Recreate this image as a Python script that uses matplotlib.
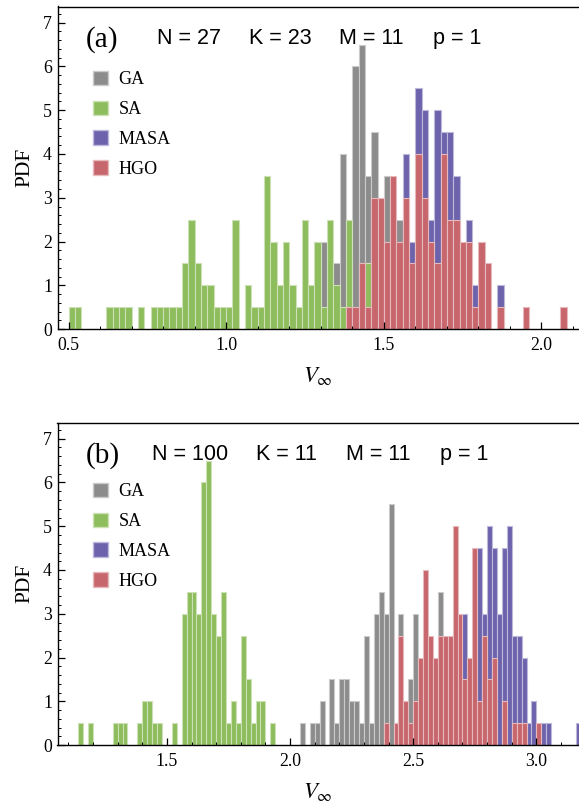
import numpy as np
import matplotlib
matplotlib.use('Agg')
import matplotlib.pyplot as plt
from matplotlib.patches import Patch
from matplotlib.ticker import MultipleLocator, FormatStrFormatter
from matplotlib.colors import to_rgb

plt.rcParams.update({
    'font.family': ['Liberation Serif', 'DejaVu Serif'],
    'mathtext.fontset': 'stix',
    'xtick.direction': 'in',
    'ytick.direction': 'in',
    'xtick.labelsize': 12.8,
    'ytick.labelsize': 12.8,
})

BIN = 0.02

# panel (a): N = 27, K = 23, M = 11, p = 1  (left bin edges, PDF heights)
a_ga_x = [1.30, 1.34, 1.36, 1.40, 1.42, 1.44, 1.46, 1.50, 1.54]
a_ga_y = [2.0, 1.5, 4.0, 6.0, 6.5, 3.5, 4.5, 3.5, 2.5]

a_sa_x = [0.50, 0.52, 0.62, 0.64, 0.66, 0.68, 0.72, 0.76, 0.78, 0.80, 0.82, 0.84,
          0.86, 0.88, 0.90, 0.92, 0.94, 0.96, 0.98, 1.00, 1.02, 1.06, 1.08, 1.10,
          1.12, 1.14, 1.16, 1.18, 1.20, 1.22, 1.24, 1.26, 1.28, 1.30, 1.32, 1.34,
          1.36, 1.38, 1.44]
a_sa_y = [0.5, 0.5, 0.5, 0.5, 0.5, 0.5, 0.5, 0.5, 0.5, 0.5, 0.5, 0.5,
          1.5, 2.5, 1.5, 1.0, 1.0, 0.5, 0.5, 0.5, 2.5, 1.0, 0.5, 0.5,
          3.5, 2.0, 1.0, 2.0, 1.0, 0.5, 2.5, 1.0, 2.0, 0.5, 2.5, 1.0,
          0.5, 2.5, 1.5]

a_masa_x = [1.56, 1.58, 1.60, 1.62, 1.64, 1.66, 1.68, 1.70, 1.72, 1.76, 1.78, 1.86]
a_masa_y = [4.0, 2.0, 5.5, 5.0, 2.5, 5.0, 4.5, 4.5, 3.5, 2.5, 1.0, 1.0]

a_hgo_x = [1.38, 1.40, 1.42, 1.44, 1.46, 1.48, 1.50, 1.52, 1.54, 1.56, 1.58, 1.60,
           1.62, 1.64, 1.66, 1.68, 1.70, 1.72, 1.74, 1.76, 1.78, 1.80, 1.82, 1.86,
           1.94, 2.06]
a_hgo_y = [0.5, 0.5, 1.5, 0.5, 3.0, 3.0, 2.0, 3.5, 2.0, 3.0, 1.5, 4.0,
           3.0, 2.0, 1.5, 4.0, 2.5, 2.5, 2.0, 2.0, 0.5, 2.0, 1.5, 0.5,
           0.5, 0.5]

# panel (b): N = 100, K = 11, M = 11, p = 1
b_ga_x = [2.04, 2.08, 2.10, 2.12, 2.16, 2.18, 2.20, 2.22, 2.24, 2.26, 2.28, 2.30,
          2.32, 2.34, 2.36, 2.38, 2.40, 2.44, 2.48, 2.50, 2.60]
b_ga_y = [0.5, 0.5, 0.5, 1.0, 1.5, 0.5, 1.5, 1.5, 1.0, 1.0, 0.5, 2.5,
          0.5, 3.0, 3.5, 3.0, 5.5, 3.0, 1.5, 3.0, 3.5]

b_sa_x = [1.14, 1.18, 1.28, 1.30, 1.32, 1.38, 1.40, 1.42, 1.44, 1.46, 1.52, 1.56,
          1.58, 1.60, 1.62, 1.64, 1.66, 1.68, 1.70, 1.72, 1.74, 1.76, 1.78, 1.80,
          1.82, 1.84, 1.86, 1.88, 1.92]
b_sa_y = [0.5, 0.5, 0.5, 0.5, 0.5, 0.5, 1.0, 1.0, 0.5, 0.5, 0.5, 3.0,
          3.5, 3.5, 3.0, 6.0, 6.5, 3.0, 2.5, 3.5, 0.5, 1.0, 0.5, 2.5,
          1.5, 0.5, 1.0, 1.0, 0.5]

b_masa_x = [2.70, 2.76, 2.78, 2.80, 2.82, 2.84, 2.86, 2.88, 2.90, 2.92, 2.94, 2.96,
            2.98, 3.02, 3.04, 3.16]
b_masa_y = [3.0, 4.5, 3.0, 5.0, 4.5, 3.0, 4.5, 5.0, 2.5, 2.5, 2.0, 0.5,
            1.0, 0.5, 0.5, 0.5]

b_hgo_x = [2.38, 2.42, 2.44, 2.46, 2.48, 2.50, 2.52, 2.54, 2.56, 2.58, 2.60, 2.62,
           2.64, 2.66, 2.68, 2.70, 2.72, 2.74, 2.76, 2.78, 2.80, 2.82, 2.86, 2.90,
           2.92, 2.94, 3.00]
b_hgo_y = [0.5, 0.5, 2.5, 1.0, 0.5, 1.0, 2.0, 4.0, 2.5, 2.0, 2.5, 2.5,
           2.5, 5.0, 3.0, 1.5, 2.0, 4.5, 1.0, 2.5, 1.5, 2.0, 1.0, 0.5,
           0.5, 0.5, 0.5]

names = ['GA', 'SA', 'MASA', 'HGO']
cols = ['#8c8c8c', '#8dbd5c', '#6c63ac', '#c8666d']


def lighter(c, f=0.55):
    r = np.array(to_rgb(c))
    return tuple(r + (1 - r) * f)


W, H = 579, 808
fig = plt.figure(figsize=(W / 100, H / 100), dpi=100)


def panel(top, bottom, xlim, series, tag, params, tag_base, par_x, leg_top):
    ax = fig.add_axes([57.5 / W, 1 - bottom / H, (W - 57.5) / W, (bottom - top) / H])
    for (x, y), c in zip(series, cols):
        ax.bar(x, y, width=BIN, align='edge', color=c, edgecolor=lighter(c),
               linewidth=0.8)
    ax.set_xlim(*xlim)
    ax.set_ylim(0, (bottom - top) / 43.75)
    ax.spines['right'].set_visible(False)
    for s in ['left', 'bottom', 'top']:
        ax.spines[s].set_linewidth(1.0)
    ax.xaxis.set_major_locator(MultipleLocator(0.5))
    ax.xaxis.set_minor_locator(MultipleLocator(0.1))
    ax.xaxis.set_major_formatter(FormatStrFormatter('%.1f'))
    ax.yaxis.set_major_locator(MultipleLocator(1))
    ax.yaxis.set_minor_locator(MultipleLocator(0.2))
    ax.tick_params(which='major', length=5, width=0.9, pad=6)
    ax.tick_params(which='minor', length=2.5, width=0.7)
    ax.tick_params(axis='y', pad=4)
    ax.set_ylabel('PDF', fontsize=15.5, labelpad=6)
    ax.set_xlabel(r'$V_\infty$', fontsize=16.5, labelpad=8)

    fig.text(86 / W, 1 - tag_base / H, tag, fontsize=21, ha='left', va='baseline')
    for s, px in zip(params, par_x):
        fig.text(px / W, 1 - (tag_base - 3) / H, s, fontsize=15.5, ha='left',
                 va='baseline', family=['Liberation Sans', 'DejaVu Sans'])

    handles = [Patch(facecolor=c, edgecolor=lighter(c), linewidth=1.0) for c in cols]
    ax.legend(handles, names, loc='upper left', bbox_to_anchor=(93 / W, 1 - leg_top / H),
              bbox_transform=fig.transFigure, frameon=False, fontsize=13,
              handlelength=0.85, handleheight=0.85, handletextpad=0.55,
              labelspacing=0.68, borderpad=0, borderaxespad=0)
    return ax


panel(6.5, 329, (0.465, 2.119),
      [(a_ga_x, a_ga_y), (a_sa_x, a_sa_y), (a_masa_x, a_masa_y), (a_hgo_x, a_hgo_y)],
      '(a)', ['N = 27', 'K = 23', 'M = 11', 'p = 1'], 47, [157, 249, 339, 433], 71)

panel(422.7, 745, (1.056, 3.173),
      [(b_ga_x, b_ga_y), (b_sa_x, b_sa_y), (b_masa_x, b_masa_y), (b_hgo_x, b_hgo_y)],
      '(b)', ['N = 100', 'K = 11', 'M = 11', 'p = 1'], 463, [152, 256, 346, 440], 483)

fig.savefig('out.png', dpi=100)
